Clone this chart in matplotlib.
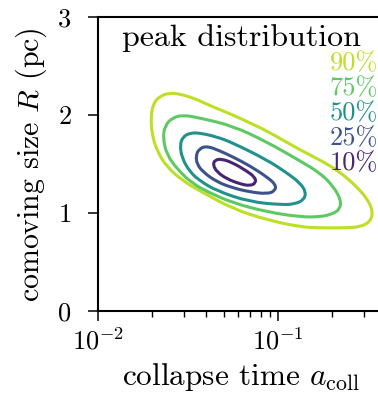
import matplotlib
matplotlib.use("Agg")
import numpy as np
import matplotlib.pyplot as plt
from matplotlib import cm
from matplotlib.path import Path
from matplotlib.patches import PathPatch
from matplotlib.ticker import NullFormatter

plt.rcParams['font.family'] = 'serif'
plt.rcParams['font.serif'] = ['cmr10']
plt.rcParams['mathtext.fontset'] = 'cm'
plt.rcParams['axes.formatter.use_mathtext'] = True

# contour levels (enclosed probability) and their outlines
levels = [0.90, 0.75, 0.50, 0.25, 0.10]
labels = ['90%', '75%', '50%', '25%', '10%']

a_90 = [0.01970, 0.02021, 0.02211, 0.02512, 0.02854, 0.03372, 0.03687, 0.04354,
        0.05623, 0.06988, 0.08689, 0.1325, 0.1711, 0.2211, 0.2748, 0.3162,
        0.3372, 0.3245, 0.2854, 0.2357, 0.1711, 0.1325, 0.08689, 0.05623,
        0.03687, 0.02966, 0.02416, 0.02128, 0.01995]
R_90 = [1.969, 2.112, 2.194, 2.224, 2.214, 2.173, 2.143, 2.082,
        2.000, 1.918, 1.837, 1.643, 1.541, 1.418, 1.265, 1.133,
        1.010, 0.908, 0.857, 0.847, 0.847, 0.857, 0.929, 1.041,
        1.224, 1.327, 1.469, 1.633, 1.806]

a_75 = [0.02297, 0.02357, 0.02577, 0.02966, 0.03687, 0.05623, 0.08689, 0.1325,
        0.1711, 0.2021, 0.2239, 0.2211, 0.2021, 0.1711, 0.1325, 0.08689,
        0.05623, 0.04190, 0.03372, 0.02783, 0.02416]
R_75 = [1.765, 1.888, 1.969, 2.000, 1.969, 1.888, 1.724, 1.531,
        1.408, 1.276, 1.133, 1.041, 0.990, 0.959, 0.959, 1.010,
        1.102, 1.204, 1.296, 1.439, 1.592]

a_50 = [0.02854, 0.02966, 0.03245, 0.03687, 0.04583, 0.05623, 0.08689, 0.1122,
        0.1325, 0.1431, 0.1394, 0.1243, 0.1066, 0.06988, 0.04583, 0.03687,
        0.03245, 0.02929]
R_50 = [1.694, 1.776, 1.816, 1.816, 1.776, 1.714, 1.541, 1.408,
        1.306, 1.214, 1.133, 1.092, 1.082, 1.112, 1.224, 1.327,
        1.418, 1.561]

a_25 = [0.03503, 0.03639, 0.04031, 0.04762, 0.05623, 0.06988, 0.08689, 0.09747,
        0.09623, 0.08689, 0.06988, 0.05623, 0.04583, 0.03831, 0.03548]
R_25 = [1.582, 1.653, 1.684, 1.633, 1.571, 1.480, 1.367, 1.286,
        1.224, 1.194, 1.214, 1.255, 1.316, 1.418, 1.500]

a_10 = [0.04354, 0.04467, 0.04885, 0.05623, 0.06556, 0.07451, 0.07547, 0.06988,
        0.06150, 0.05208, 0.04583]
R_10 = [1.490, 1.541, 1.551, 1.510, 1.439, 1.367, 1.306, 1.276,
        1.296, 1.347, 1.418]

outlines = [(a_90, R_90), (a_75, R_75), (a_50, R_50), (a_25, R_25), (a_10, R_10)]


def smooth_loop(aa, rr):
    '''closed path: read points are quadratic bezier control points'''
    p = np.column_stack([np.log10(aa), rr])
    m = 0.5 * (p + np.roll(p, -1, axis=0))
    verts = [m[-1]]
    codes = [Path.MOVETO]
    for i in range(len(p)):
        verts += [p[i], m[i]]
        codes += [Path.CURVE3, Path.CURVE3]
    verts = np.array(verts)
    verts[:, 0] = 10 ** verts[:, 0]
    return Path(verts, codes)


fig = plt.figure(figsize=(3.78, 3.95), dpi=100)
ax = fig.add_axes([0.259, 0.213, 0.741, 0.744])

for lev, (aa, rr) in zip(levels, outlines):
    col = cm.viridis(lev)
    ax.add_patch(PathPatch(smooth_loop(aa, rr), facecolor='none', edgecolor=col,
                           lw=2.2, joinstyle='round'))

ax.set_xscale('log')
ax.set_xlim(0.01, 0.3594)
ax.set_ylim(0, 3)
ax.set_yticks([0, 1, 2, 3])
ax.xaxis.set_minor_formatter(NullFormatter())

ax.spines['right'].set_visible(False)
for s in ['left', 'bottom', 'top']:
    ax.spines[s].set_linewidth(1.5)
ax.tick_params(which='major', length=7, width=1.1, labelsize=19, pad=5)
ax.tick_params(which='minor', length=4.5, width=1.0)
ax.tick_params(axis='y', which='major', pad=12)
ax.tick_params(top=False, right=False)

ax.set_xlabel(r'collapse time $a_{\rm coll}$', fontsize=22.5)
ax.set_ylabel(r'comoving size $R$ (pc)', fontsize=21.5)
ax.xaxis.set_label_coords(0.51, -0.17)
ax.yaxis.set_label_coords(-0.175, 0.497)

ax.text(0.511, 0.93, 'peak distribution', transform=ax.transAxes,
        ha='center', va='center', fontsize=23)
ys = [0.8435, 0.7585, 0.673, 0.588, 0.503]
for lev, lab, yy in zip(levels, labels, ys):
    ax.text(1.0, yy, lab, transform=ax.transAxes, ha='right', va='center',
            fontsize=19, color=cm.viridis(lev))

fig.savefig('out.png', dpi=100)
